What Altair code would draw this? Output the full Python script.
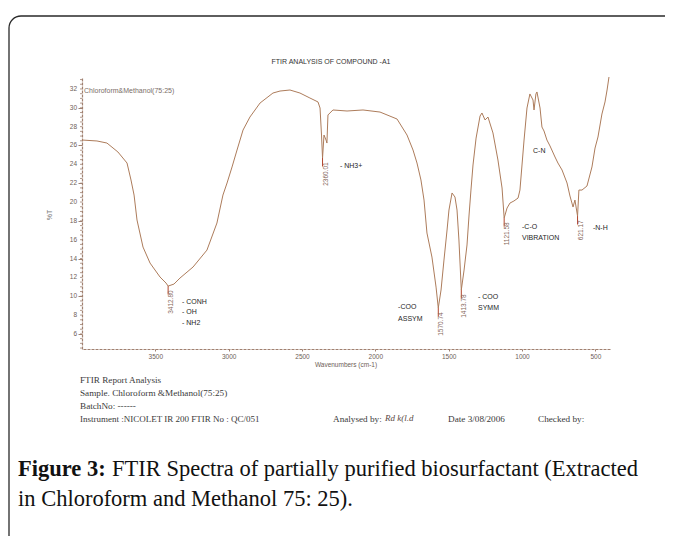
import altair as alt
import pandas as pd

# ---------------- data ----------------
wavenumber = [4000, 3898, 3830, 3755, 3693, 3666, 3645, 3625, 3584, 3536, 3468, 3427, 3412.8,
              3373, 3332, 3243, 3148, 3080, 3039, 3011, 2977, 2943, 2902, 2855, 2786, 2698,
              2650, 2582, 2514, 2446, 2391, 2377, 2367, 2360.01, 2350, 2336, 2330, 2323, 2289,
              2193, 2084, 1968, 1852, 1784, 1743, 1716, 1689, 1668, 1648, 1614, 1586, 1570.74,
              1552, 1532, 1511, 1498, 1477, 1457, 1443, 1430, 1413.78, 1395, 1375, 1361, 1348,
              1334, 1313, 1286, 1273, 1252, 1232, 1198, 1164, 1136, 1121.58, 1102, 1082, 1055,
              1027, 1014, 1000, 986, 966, 946, 925, 918, 905, 898, 877, 864, 850, 830, 809, 775,
              755, 727, 693, 673, 652, 639, 621.17, 612, 591, 557, 523, 502, 482, 455, 434, 420, 407]
transmittance = [26.58, 26.48, 26.26, 25.31, 24.14, 22.34, 20.74, 18.09, 15.22, 13.52, 12.04, 11.40,
                 11.08, 11.29, 11.93, 13.10, 14.90, 17.77, 20.74, 22.02, 23.72, 25.52, 27.64, 29.02,
                 30.51, 31.57, 31.78, 31.89, 31.57, 31.04, 30.62, 29.98, 27.11, 24.67, 27.11, 26.58,
                 26.26, 29.24, 29.77, 29.66, 29.77, 29.55, 28.81, 27.11, 25.52, 24.14, 22.34, 20.21,
                 16.71, 14.16, 10.97, 8.75, 10.66, 13.84, 17.03, 19.15, 20.96, 20.53, 19.15, 15.97,
                 10.66, 12.78, 15.44, 18.62, 21.27, 23.93, 26.79, 29.13, 29.45, 28.71, 29.02, 27.33,
                 24.46, 21.49, 18.30, 19.36, 19.89, 20.11, 20.42, 21.27, 23.93, 26.58, 29.98, 31.47,
                 30.83, 29.77, 31.47, 31.68, 29.98, 27.96, 27.54, 26.58, 25.95, 24.78, 24.14, 23.40,
                 22.02, 20.64, 19.47, 20.21, 18.51, 21.27, 21.27, 21.70, 23.72, 25.73, 26.90, 29.34,
                 30.62, 31.89, 33.27]

peak_wn = [3412.80, 2360.01, 1570.74, 1413.78, 1121.58, 621.17]
peak_T = [11.08, 24.67, 8.75, 10.66, 18.30, 18.51]
peak_text = ["3412.80", "2360.01", "1570.74", "1413.78", "1121.58", "621.17"]

group_text = ["- CONH", "- OH", "- NH2", "- NH3+", "-COO", "ASSYM", "- COO", "SYMM",
              "-C-O", "VIBRATION", "-N-H", "C-N"]
group_wn = [3318, 3318, 3318, 2241, 1845, 1845, 1300, 1300, 1000, 1000, 516, 925]
group_T = [9.38, 8.32, 7.16, 23.82, 8.85, 7.58, 9.91, 8.75, 17.35, 16.18, 17.24, 25.41]

x_ticks = [3500, 3000, 2500, 2000, 1500, 1000, 500]
y_ticks = [6, 8, 10, 12, 14, 16, 18, 20, 22, 24, 26, 28, 30, 32]
y_minor = [v / 2 for v in range(9, 67)]

# ---------------- layout ----------------
PLOT_W, PLOT_H = 528, 272
OX, OY = 82, 77  # page position of the plot origin
PAD = {"left": 74, "top": 69, "right": 55, "bottom": 187}

TRACE = "#ad7c5b"
AXIS_C = "#a08070"
LAB_C = "#6e5e56"

xscale = alt.Scale(domain=[400, 4000], reverse=True, nice=False, zero=False)
yscale = alt.Scale(domain=[4.4, 33.27], nice=False, zero=False)

xaxis = alt.Axis(values=x_ticks, format="d", title=None, grid=False, labelFontSize=6.5,
                 labelFont="Liberation Sans", labelColor=LAB_C, tickSize=2, tickColor=AXIS_C,
                 domainColor=AXIS_C, domainWidth=1.2, domainDash=[3, 1], labelPadding=2,
                 labelOverlap=False)
yaxis = alt.Axis(values=y_ticks, title=None, grid=False, labels=False, tickSize=4,
                 tickColor=AXIS_C, domainColor=AXIS_C, domainWidth=1.2, domainDash=[3, 1])

spec_df = pd.DataFrame({"wn": wavenumber, "T": transmittance})
peak_df = pd.DataFrame({"wn": peak_wn, "T": peak_T, "label": peak_text})
peak_df["T_lab"] = peak_df["T"] - 0.45
peak_df["T_tick"] = peak_df["T"] - 0.9
group_df = pd.DataFrame({"wn": group_wn, "T": group_T, "label": group_text})
minor_df = pd.DataFrame({"T": y_minor})
ylab_df = pd.DataFrame({"T": y_ticks})
one = pd.DataFrame({"k": [0]})

line = alt.Chart(spec_df).mark_line(color=TRACE, strokeWidth=1).encode(
    x=alt.X("wn:Q", scale=xscale, axis=xaxis),
    y=alt.Y("T:Q", scale=yscale, axis=yaxis))

minor_ticks = alt.Chart(minor_df).mark_rule(color=AXIS_C, strokeWidth=0.8).encode(
    y=alt.Y("T:Q"), x=alt.value(-2), x2=alt.value(0))

y_labels = alt.Chart(ylab_df).mark_text(align="right", baseline="middle", fontSize=6.5,
                                        font="Liberation Sans", color=LAB_C).encode(
    y=alt.Y("T:Q"), x=alt.value(-5), text=alt.Text("T:Q", format="d"))

peak_ticks = alt.Chart(peak_df).mark_rule(color="#b0452c", strokeWidth=1).encode(
    x=alt.X("wn:Q"), y=alt.Y("T:Q"), y2="T_tick:Q")

peak_labels = alt.Chart(peak_df).mark_text(angle=270, align="right", baseline="top",
                                           fontSize=6.5, font="Liberation Sans",
                                           color="#86685a").encode(
    x=alt.X("wn:Q"), y=alt.Y("T_lab:Q"), text="label:N")

group_labels = alt.Chart(group_df).mark_text(align="left", baseline="middle", fontSize=7,
                                             font="Liberation Sans", color="#262626").encode(
    x=alt.X("wn:Q"), y=alt.Y("T:Q"), text="label:N")


def ptext(txt, px, py, size=7, font="Liberation Sans", color="#333333", align="left",
          baseline="middle", angle=0, weight="normal", style="normal"):
    kw = dict(text=txt, align=align, baseline=baseline, fontSize=size, font=font,
              color=color, fontWeight=weight, fontStyle=style)
    if angle:
        kw["angle"] = angle
    return alt.Chart(one).mark_text(**kw).encode(x=alt.value(px - OX), y=alt.value(py - OY))


frame = alt.Chart(one).mark_rect(fill="#ffffff", fillOpacity=0, stroke="#2a2a2a",
                                 strokeWidth=1.3, cornerRadius=12).encode(
    x=alt.value(9 - OX), x2=alt.value(720 - OX), y=alt.value(16 - OY), y2=alt.value(620 - OY))

SERIF = "Liberation Serif"
REP_C = "#3a3a3a"
CAP = 22.5
texts = [
    ptext("FTIR ANALYSIS OF COMPOUND -A1", 331, 62, size=7, color="#333333", align="center"),
    ptext("Chloroform&Methanol(75:25)", 84, 91, size=7, color="#7a6e68"),
    ptext("%T", 50, 215, size=7, color="#777777", align="center", angle=270),
    ptext("Wavenumbers (cm-1)", 346, 365, size=6.5, color=LAB_C, align="center"),
    ptext("FTIR Report Analysis", 80, 380, size=9.2, font=SERIF, color=REP_C),
    ptext("Sample. Chloroform &Methanol(75:25)", 80, 393, size=9.2, font=SERIF, color=REP_C),
    ptext("BatchNo: ------", 80, 406, size=9.2, font=SERIF, color=REP_C),
    ptext("Instrument :NICOLET IR 200 FTIR No : QC/051", 80, 419, size=9, font=SERIF, color=REP_C),
    ptext("Analysed by:", 333, 419, size=9.2, font=SERIF, color=REP_C),
    ptext("Rd k(l.d", 385, 418, size=9, font=SERIF, color="#5a4a44", style="italic"),
    ptext("Date 3/08/2006", 448, 419, size=9.2, font=SERIF, color=REP_C),
    ptext("Checked by:", 538, 419, size=9.2, font=SERIF, color=REP_C),
    ptext("Figure 3:", 18, 469, size=CAP, font=SERIF, color="#111111", weight="bold"),
    ptext("FTIR Spectra of partially purified biosurfactant (Extracted", 112, 469, size=CAP,
          font=SERIF, color="#111111"),
    ptext("in Chloroform and Methanol 75: 25).", 18, 499, size=CAP, font=SERIF, color="#111111"),
]

chart = alt.layer(line, minor_ticks, y_labels, peak_ticks, peak_labels, group_labels,
                  *texts, frame).properties(
    width=PLOT_W, height=PLOT_H, padding=PAD, autosize="none", background="white"
).configure_view(stroke=None)

chart.save("out.html", embed_options={"renderer": "svg", "actions": False})
